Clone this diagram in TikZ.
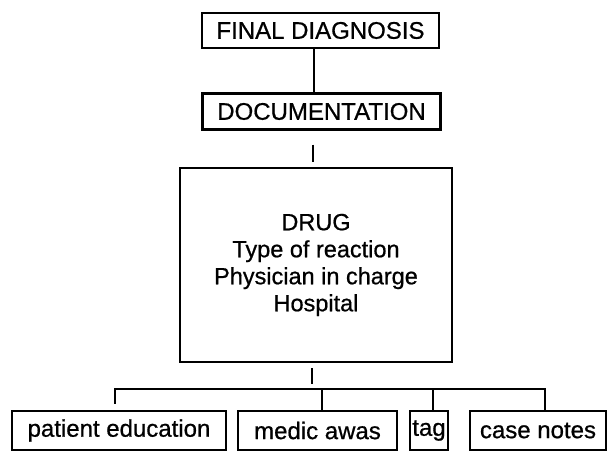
\documentclass[tikz,border=0pt]{standalone}
\usepackage{fontspec}
\setmainfont{Liberation Sans}[FakeBold=0.7]
\tikzset{
  box/.style={draw, line width=2.2pt, inner sep=0pt, font=\fontsize{24}{27}\selectfont},
  conn/.style={line width=2.2pt}
}
\begin{document}
\begin{tikzpicture}[x=1pt,y=-1pt]
\useasboundingbox (0,0) rectangle (607,452);
\node[box, minimum width=237pt, minimum height=35pt] (fd) at (320.5,30.5) {FINAL DIAGNOSIS};
\node[box, minimum width=238pt, minimum height=36pt] (doc) at (321.5,111.5) {DOCUMENTATION};
\node[box, minimum width=272pt, minimum height=194pt, align=center, font=\fontsize{23.5}{27}\selectfont] (drug) at (316,265) {DRUG\\Type of reaction\\Physician in charge\\Hospital};
\node[box, minimum width=214pt, minimum height=39pt] (pe) at (119,430.5) {patient education};
\node[box, minimum width=159pt, minimum height=39pt] (ma) at (317.5,430.5) {medic awas};
\node[box, minimum width=38pt, minimum height=39pt] (tag) at (429,430.5) {tag};
\node[box, minimum width=136pt, minimum height=39pt] (cn) at (538,430.5) {case notes};
\coordinate (v1) at (314,0);
\coordinate (v2) at (313,0);
\coordinate (bj) at (312,389);
\coordinate (bl) at (115,389);
\coordinate (br) at (545,389);
\coordinate (bm) at (322,389);
\coordinate (bt) at (433,389);
\draw[conn] (fd.south -| v1) -- (doc.north -| v1);
\draw[conn, shorten <=14pt, shorten >=5pt] (doc.south -| v2) -- (drug.north -| v2);
\draw[conn, shorten <=5pt, shorten >=5pt] (drug.south -| bj) -- (bj);
\draw[conn, shorten <=6pt] (pe.north -| bl) -- (bl) -- (br) -- (cn.north -| br);
\draw[conn] (bm) -- (ma.north -| bm);
\draw[conn] (bt) -- (tag.north -| bt);
\end{tikzpicture}
\end{document}
